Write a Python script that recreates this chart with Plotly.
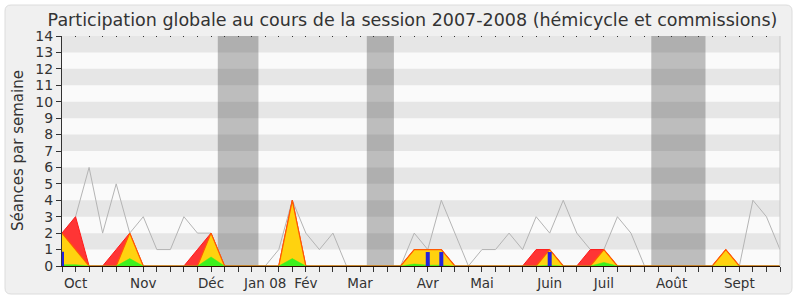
import plotly.graph_objects as go

# ---------------- data ----------------
weeks = list(range(54))

moyenne = [2, 3, 6, 2, 5, 2, 3, 1, 1, 3, 2, 2, 0, 0, 0, 0, 1, 4, 2, 1,
           2, 0, 0, 0, 0, 0, 2, 1, 4, 2, 0, 1, 1, 2, 1, 3, 2, 4, 2, 1,
           1, 3, 2, 0, 0, 0, 0, 0, 0, 0, 0, 4, 3, 1]

commission = [2, 3, 0, 0, 1, 2, 0, 0, 0, 0, 1, 2, 0, 0, 0, 0, 0, 4, 0, 0,
              0, 0, 0, 0, 0, 0, 1, 1, 1, 0, 0, 0, 0, 0, 0, 1, 1, 0, 0, 1,
              1, 0, 0, 0, 0, 0, 0, 0, 0, 1, 0, 0, 0, 0]

hemicycle = [2, 1, 0, 0, 0, 2, 0, 0, 0, 0, 0, 2, 0, 0, 0, 0, 0, 4, 0, 0,
             0, 0, 0, 0, 0, 0, 1, 1, 1, 0, 0, 0, 0, 0, 0, 0, 1, 0, 0, 0,
             1, 0, 0, 0, 0, 0, 0, 0, 0, 1, 0, 0, 0, 0]

interventions = [0.08, 0.08, 0, 0, 0, 0.45, 0, 0, 0, 0, 0, 0.55, 0, 0, 0, 0, 0, 0.45, 0, 0,
                 0, 0, 0, 0, 0, 0, 0.12, 0.05, 0.05, 0, 0, 0, 0, 0, 0, 0, 0.05, 0, 0, 0,
                 0.22, 0, 0, 0, 0, 0, 0, 0, 0, 0.03, 0, 0, 0, 0]

questions = [0.87, 0, 0, 0, 0, 0, 0, 0, 0, 0, 0, 0, 0, 0, 0, 0, 0, 0, 0, 0,
             0, 0, 0, 0, 0, 0, 0, 0.85, 0.85, 0, 0, 0, 0, 0, 0, 0, 0.85, 0, 0, 0,
             0, 0, 0, 0, 0, 0, 0, 0, 0, 0, 0, 0, 0, 0]

vacances = [12, 13, 14, 23, 24, 44, 45, 46, 47]

month_weeks = [1, 6, 11, 15, 18, 22, 27, 31, 36, 40, 45, 50]
month_labels = ["Oct", "Nov", "Déc", "Jan 08", "Fév", "Mar", "Avr", "Mai",
                "Juin", "Juil", "Août", "Sept"]

y_max = 14
title = "Participation globale au cours de la session 2007-2008 (hémicycle et commissions)"
y_title = "Séances par semaine"

# ---------------- layout geometry ----------------
W, H = 800, 300
ML, MR, MT, MB = 62, 20, 36, 34
PW, PH = W - ML - MR, H - MT - MB
FONT = "DejaVu Sans"
TXT = "#333333"


def px_x(p):
    return (p - ML) / PW


def px_y(p):
    return (H - MB - p) / PH


fig = go.Figure()

# moyenne (grey line, beneath the areas)
fig.add_trace(go.Scatter(x=weeks, y=moyenne, mode="lines",
                         line=dict(color="#B4B4B4", width=1), showlegend=False))
# commissions (red)
fig.add_trace(go.Scatter(x=weeks, y=commission, mode="lines", fill="tozeroy",
                         fillcolor="#FF3535", line=dict(color="#FF1A1A", width=1),
                         showlegend=False))
# hemicycle (yellow with orange edge)
fig.add_trace(go.Scatter(x=weeks, y=hemicycle, mode="lines", fill="tozeroy",
                         fillcolor="#FFD20F", line=dict(color="#FF5A00", width=1.2),
                         showlegend=False))
# interventions (green)
fig.add_trace(go.Scatter(x=weeks, y=interventions, mode="lines", fill="tozeroy",
                         fillcolor="#3CF01E", line=dict(color="#3CF01E", width=0.5),
                         showlegend=False))
# questions (blue thin bars drawn as vertical segments)
qx, qy = [], []
for w, v in zip(weeks, questions):
    if v > 0:
        qx += [w, w, None]
        qy += [0, v, None]
fig.add_trace(go.Scatter(x=qx, y=qy, mode="lines",
                         line=dict(color="#2323DC", width=4), showlegend=False))
# dummy trace for top dotted ticks axis
fig.add_trace(go.Scatter(x=[None], y=[None], xaxis="x2", showlegend=False))

shapes = []
# outer rounded frame
x0, x1 = px_x(5), px_x(792)
y0, y1 = px_y(294), px_y(5)
rx, ry = 6 / PW, 6 / PH
path = (f"M {x0+rx},{y0} L {x1-rx},{y0} Q {x1},{y0} {x1},{y0+ry} "
        f"L {x1},{y1-ry} Q {x1},{y1} {x1-rx},{y1} L {x0+rx},{y1} "
        f"Q {x0},{y1} {x0},{y1-ry} L {x0},{y0+ry} Q {x0},{y0} {x0+rx},{y0} Z")
shapes.append(dict(type="path", path=path, xref="paper", yref="paper",
                   fillcolor="#F0F0F0", line=dict(color="#DCDCDC", width=1),
                   layer="below"))
# plot area background
shapes.append(dict(type="rect", xref="paper", yref="paper", x0=0, x1=1, y0=0, y1=1,
                   fillcolor="#FAFAFA", line=dict(width=0), layer="below"))
# horizontal stripes
for k in range(1, y_max, 2):
    shapes.append(dict(type="rect", xref="paper", yref="y", x0=0, x1=1,
                       y0=k, y1=k + 1, fillcolor="#E6E6E6", line=dict(width=0),
                       layer="below"))
# vacation bands from contiguous vacation weeks
groups = []
for w in vacances:
    if groups and w == groups[-1][1] + 1:
        groups[-1][1] = w
    else:
        groups.append([w, w])
for a, b in groups:
    shapes.append(dict(type="rect", xref="x", yref="paper", x0=a - 0.5, x1=b + 0.5,
                       y0=0, y1=1, fillcolor="rgba(50,50,50,0.3)", line=dict(width=0),
                       layer="below"))
# right border line
shapes.append(dict(type="line", xref="paper", yref="paper", x0=1, x1=1, y0=0, y1=1,
                   line=dict(color="#C8C8C8", width=1)))

ticktext = [month_labels[month_weeks.index(w)] if w in month_weeks else "" for w in weeks]

fig.update_layout(
    width=W, height=H,
    margin=dict(l=ML, r=MR, t=MT, b=MB, autoexpand=False),
    paper_bgcolor="white",
    plot_bgcolor="rgba(0,0,0,0)",
    shapes=shapes,
    showlegend=False,
    title=dict(text=title, x=412.5 / W, xref="container", xanchor="center",
               y=1 - 20 / H, yref="container", yanchor="middle",
               font=dict(family=FONT, size=17.5, color=TXT)),
    xaxis=dict(range=[0, weeks[-1]], tickmode="array", tickvals=weeks, ticktext=ticktext,
               ticks="outside", ticklen=5, tickwidth=1, tickcolor="#333333",
               showline=True, linecolor="#2a1000", linewidth=1,
               showgrid=False, zeroline=False, automargin=False,
               tickfont=dict(family=FONT, size=13.5, color=TXT)),
    xaxis2=dict(range=[0, weeks[-1]], overlaying="x", side="top", anchor="y",
                tickmode="array", tickvals=weeks, showticklabels=False,
                ticks="inside", ticklen=1, tickwidth=1, tickcolor="#333333",
                showline=False, showgrid=False, zeroline=False, automargin=False),
    yaxis=dict(range=[0, y_max], tickmode="array", tickvals=list(range(y_max + 1)),
               ticks="outside", ticklen=5, tickwidth=1, tickcolor="#333333",
               showline=True, linecolor="#333333", linewidth=1,
               showgrid=False, zeroline=False, automargin=False,
               tickfont=dict(family=FONT, size=14, color=TXT)),
    annotations=[dict(text=y_title, xref="paper", yref="paper",
                      x=px_x(18), y=0.5, xanchor="center", yanchor="middle",
                      textangle=-90, showarrow=False,
                      font=dict(family=FONT, size=15, color=TXT))],
)

fig.write_html("out.html", config={"displayModeBar": False})
